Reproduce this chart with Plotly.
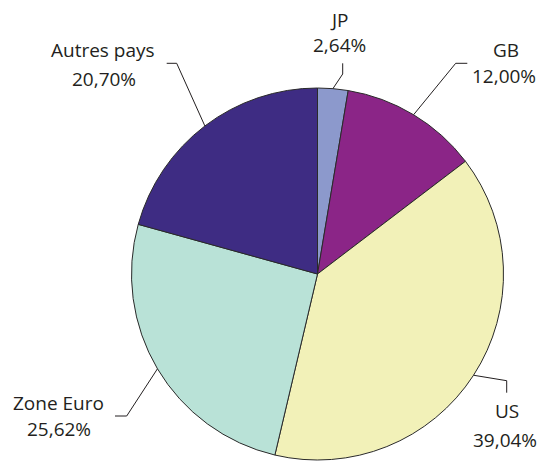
import math
import plotly.graph_objects as go

# ---- data ----
countries = ["JP", "GB", "US", "Zone Euro", "Autres pays"]
shares = [2.64, 12.00, 39.04, 25.62, 20.70]
share_labels = ["2,64%", "12,00%", "39,04%", "25,62%", "20,70%"]
colors = ["#8c99cc", "#8b2587", "#f2f1b8", "#b9e2d7", "#3e2c83"]

W, H = 539, 464
CX, CY, R = 317.5, 274.0, 186.0

# label layout (pixel): name center, value center, elbow, end of leader
name_pos = [(339, 20), (506, 50), (506.5, 411), (58, 403), (102.5, 50)]
val_pos = [(339.5, 45), (503.5, 76), (505, 440), (59, 429), (103.5, 78.5)]
elbows = [(342.7, 74), (455.7, 63.3), (506.7, 380.7), (126.7, 416), (176.7, 63.3)]
ends = [(342.7, 63.3), (467.3, 63.3), (506.7, 392.7), (115, 416), (166.7, 63.3)]


def px(x):
    return x / W


def py(y):
    return 1 - y / H


fig = go.Figure(go.Pie(
    labels=countries,
    values=shares,
    sort=False,
    direction="clockwise",
    rotation=0,
    marker=dict(colors=colors, line=dict(color="#2a2a2a", width=1)),
    textinfo="none",
    hoverinfo="label+percent",
    domain=dict(x=[px(CX - R), px(CX + R)], y=[py(CY + R), py(CY - R)]),
    showlegend=False,
))

total = sum(shares)
cum = 0.0
shapes = []
annotations = []
font = dict(family="Open Sans, Arial, sans-serif", size=19, color="#231f20")
for i, v in enumerate(shares):
    mid = 2 * math.pi * (cum + v / 2) / total
    cum += v
    sx = CX + R * math.sin(mid)
    sy = CY - R * math.cos(mid)
    ex, ey = elbows[i]
    tx, ty = ends[i]
    path = f"M {px(sx)},{py(sy)} L {px(ex)},{py(ey)} L {px(tx)},{py(ty)}"
    shapes.append(dict(type="path", xref="paper", yref="paper", path=path,
                       line=dict(color="#231f20", width=1)))
    for (ax, ay), txt in ((name_pos[i], countries[i]), (val_pos[i], share_labels[i])):
        annotations.append(dict(x=px(ax), y=py(ay), xref="paper", yref="paper",
                                text=txt, showarrow=False, xanchor="center",
                                yanchor="middle", font=font))

fig.update_layout(
    width=W, height=H,
    margin=dict(l=0, r=0, t=0, b=0),
    paper_bgcolor="white",
    plot_bgcolor="white",
    shapes=shapes,
    annotations=annotations,
)

fig.write_html("out.html", config={"displayModeBar": False},
               post_script="document.body.style.margin='0px';")
